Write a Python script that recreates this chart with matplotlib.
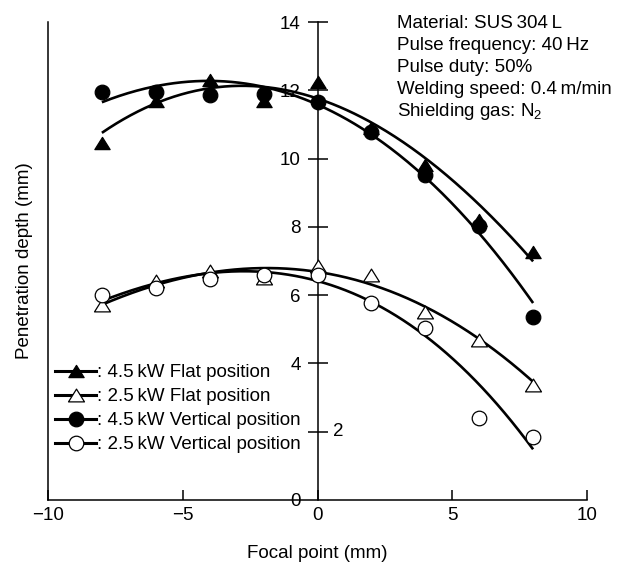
import numpy as np
import matplotlib
matplotlib.use("Agg")
import matplotlib.pyplot as plt
from matplotlib.lines import Line2D
from matplotlib.path import Path

plt.rcParams['font.family'] = ['Liberation Sans', 'DejaVu Sans']
plt.rcParams['mathtext.fontset'] = 'custom'
plt.rcParams['mathtext.rm'] = 'Liberation Sans'
plt.rcParams['mathtext.it'] = 'Liberation Sans:italic'

# ---- data ----
focal = [-8, -6, -4, -2, 0, 2, 4, 6, 8]
flat_45 = [10.45, 11.7, 12.3, 11.7, 12.25, 10.9, 9.8, 8.2, 7.25]
flat_25 = [5.7, 6.4, 6.7, 6.5, 6.85, 6.6, 5.5, 4.68, 3.37]
vert_45 = [11.95, 11.95, 11.85, 11.9, 11.65, 10.78, 9.52, 8.03, 5.37]
vert_25 = [6.0, 6.2, 6.46, 6.58, 6.58, 5.78, 5.03, 2.41, 1.85]

# fitted trend curves, sampled at the same focal points
fit_flat_45 = [10.8, 11.57, 12.0, 12.1, 11.8, 11.2, 9.96, 8.49, 7.08]
fit_vert_45 = [11.65, 12.13, 12.25, 12.1, 11.6, 10.74, 9.37, 7.86, 5.76]
fit_flat_25 = [5.75, 6.25, 6.64, 6.78, 6.72, 6.39, 5.61, 4.64, 3.51]
fit_vert_25 = [5.85, 6.3, 6.66, 6.72, 6.35, 5.85, 4.83, 3.32, 1.51]

labels = [": 4.5\u2009kW Flat position", ": 2.5\u2009kW Flat position",
          ": 4.5\u2009kW Vertical position", ": 2.5\u2009kW Vertical position"]
conditions = ["Material: SUS\u2009304\u2009L", "Pulse frequency: 40\u2009Hz",
              "Pulse duty: 50%", "Welding speed: 0.4\u2009m/min",
              "Shielding gas: N$_2$"]
xticks = [-10, -5, 0, 5, 10]
yticks = [0, 2, 4, 6, 8, 10, 12, 14]

FS = 13.5
tri = Path([(0, 0.8), (-1, -0.8), (1, -0.8), (0, 0.8)],
           [Path.MOVETO, Path.LINETO, Path.LINETO, Path.CLOSEPOLY])

fig = plt.figure(figsize=(6.23, 5.64), dpi=100)
ax = fig.add_axes([48 / 623, 64 / 564, 539 / 623, 478 / 564])
ax.set_xlim(-10, 10)
ax.set_ylim(0, 14)

series = [
    (flat_45, fit_flat_45, tri, 'black', 11),
    (flat_25, fit_flat_25, tri, 'white', 11.5),
    (vert_45, fit_vert_45, 'o', 'black', 10.5),
    (vert_25, fit_vert_25, 'o', 'white', 10.5),
]
xs = np.linspace(min(focal), max(focal), 300)
for ys, fit, mk, fc, ms in series:
    coef = np.polyfit(focal, fit, 3)
    ax.plot(xs, np.polyval(coef, xs), color='black', lw=1.9, zorder=2,
            solid_capstyle='butt')
for ys, fit, mk, fc, ms in series:
    ax.plot(focal, ys, ls='none', marker=mk, ms=ms, mfc=fc, mec='black',
            mew=0.9, zorder=3, clip_on=False)

# spines
ax.spines['top'].set_visible(False)
ax.spines['left'].set_position(('data', 0))
ax.spines['right'].set_position(('data', -10))
for s in ['left', 'right', 'bottom']:
    ax.spines[s].set_linewidth(1.1)
    ax.spines[s].set_color('black')
ax.yaxis.set_ticks_position('left')

ax.set_xticks(xticks)
ax.set_xticklabels([f"{v}".replace('-', '\u2212') for v in xticks])
ax.tick_params(axis='x', direction='in', length=7.5, width=1.1,
               labelsize=FS, pad=5)
ax.set_yticks(yticks)
ax.set_yticklabels(["" if v == 2 else str(v) for v in yticks])
ax.tick_params(axis='y', direction='inout', length=14, width=1.1,
               labelsize=FS, pad=5)
ax.yaxis.get_major_ticks()[0].tick1line.set_visible(False)
ax.annotate("2", xy=(0, 2), xytext=(11, 0), textcoords='offset points',
            ha='left', va='center', fontsize=FS)

ax.set_xlabel("Focal point (mm)", fontsize=FS, labelpad=15)
ax.set_ylabel("Penetration depth (mm)", fontsize=FS)
ax.yaxis.set_label_coords(-0.027, 0.5)

# legend
handles = [
    Line2D([], [], color='black', lw=2.2, marker=tri, ms=11, mfc='black', mec='black', mew=0.9),
    Line2D([], [], color='black', lw=2.2, marker=tri, ms=11.5, mfc='white', mec='black', mew=0.9),
    Line2D([], [], color='black', lw=2.2, marker='o', ms=10.5, mfc='black', mec='black', mew=0.9),
    Line2D([], [], color='black', lw=2.2, marker='o', ms=10.5, mfc='white', mec='black', mew=0.9),
]
ax.legend(handles, labels, loc='center left', bbox_to_anchor=(0.013, 0.191),
          frameon=False, fontsize=FS, handlelength=2.2, handletextpad=0.05,
          labelspacing=0.36, borderpad=0, borderaxespad=0)

# condition text
for i, t in enumerate(conditions):
    ax.text(0.6475, 0.9868 - i * 0.046, t, transform=ax.transAxes,
            fontsize=FS, ha='left', va='baseline')

fig.savefig("out.png", dpi=100, facecolor='white')
